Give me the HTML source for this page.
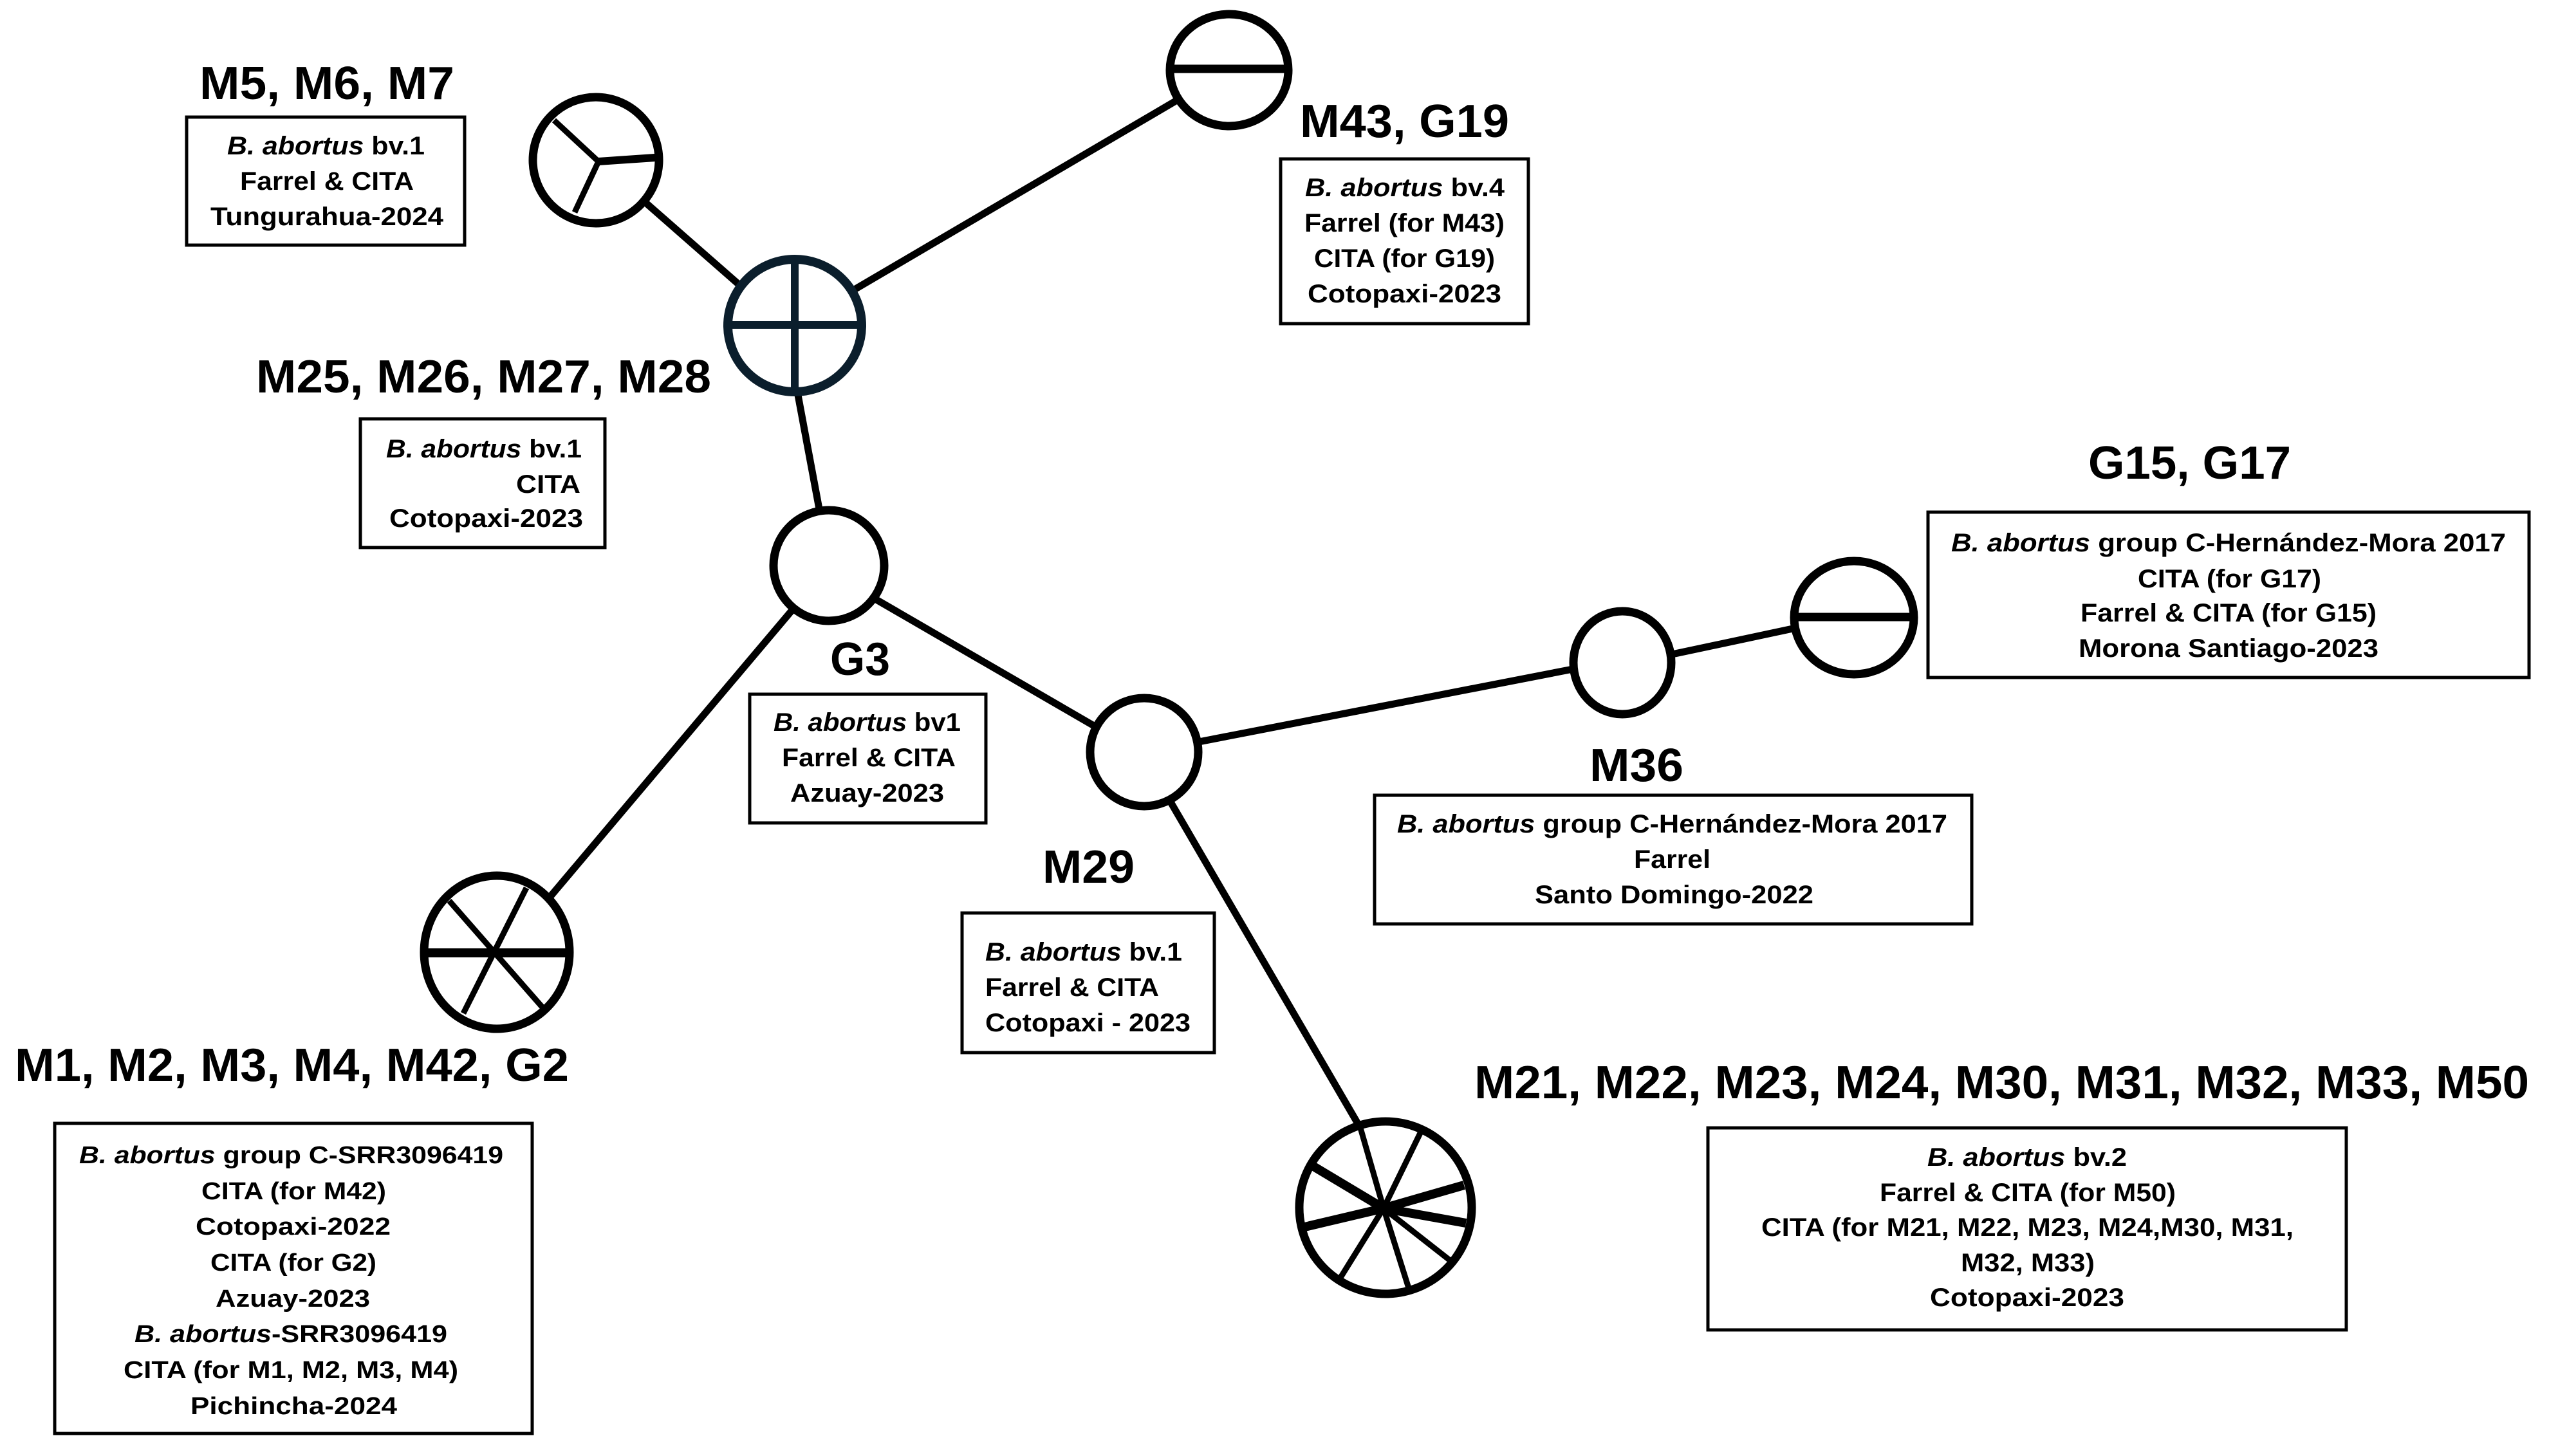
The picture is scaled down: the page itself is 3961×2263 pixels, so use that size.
<!DOCTYPE html>
<html><head><meta charset="utf-8"><style>
html,body{margin:0;padding:0;background:#fff;}
svg{display:block;}
text{font-family:"Liberation Sans",Arial,sans-serif;font-weight:bold;fill:#000;}
.t{font-size:72px;}
.b{font-size:40px;}
.s{font-size:38px;}
</style></head><body>
<svg width="3961" height="2263" viewBox="0 0 3961 2263" xmlns="http://www.w3.org/2000/svg">
<rect width="3961" height="2263" fill="#fff"/>
<g stroke="#000" stroke-width="11" fill="none" stroke-linecap="butt">
<line x1="993" y1="306" x2="1148" y2="442"/>
<line x1="1832" y1="154" x2="1326" y2="451"/>
<line x1="1240" y1="614" x2="1273" y2="791"/>
<line x1="1232" y1="947" x2="853" y2="1396"/>
<line x1="1360" y1="931" x2="1705" y2="1131"/>
<line x1="1863" y1="1153" x2="2444" y2="1040"/>
<line x1="2598" y1="1017" x2="2786" y2="977"/>
<line x1="1817" y1="1243" x2="2115" y2="1755"/>
</g>
<g stroke="#000" stroke-width="13" fill="#fff">
<circle cx="926" cy="249" r="98"/>
<ellipse cx="1910" cy="109" rx="92" ry="87"/>
<circle cx="1288" cy="879" r="86"/>
<circle cx="1778" cy="1169" r="84"/>
<ellipse cx="2521" cy="1030" rx="76" ry="80"/>
<ellipse cx="2881" cy="960" rx="93" ry="88"/>
<ellipse cx="772" cy="1480" rx="113" ry="119"/>
<circle cx="2153" cy="1877" r="134"/>
</g>
<ellipse cx="1235" cy="506" rx="104" ry="103" stroke="#0b1e2c" stroke-width="14" fill="#fff"/>
<g stroke="#0b1e2c" stroke-width="12">
<line x1="1235" y1="403" x2="1235" y2="609"/>
<line x1="1131" y1="505" x2="1339" y2="505"/>
</g>
<g stroke="#000" stroke-width="9">
<line x1="861" y1="187" x2="930" y2="251"/>
<line x1="930" y1="251" x2="1018" y2="245" stroke-width="12"/>
<line x1="930" y1="251" x2="893" y2="330"/>
<line x1="1818" y1="107" x2="2002" y2="107" stroke-width="13"/>
<line x1="2788" y1="959" x2="2974" y2="959" stroke-width="13"/>
<line x1="659" y1="1481" x2="885" y2="1481" stroke-width="14"/>
<line x1="698" y1="1400" x2="845" y2="1568"/>
<line x1="818" y1="1380" x2="720" y2="1575"/>
<line x1="2150" y1="1878" x2="2114" y2="1753"/>
<line x1="2150" y1="1878" x2="2207" y2="1761"/>
<line x1="2150" y1="1878" x2="2038" y2="1811" stroke-width="14"/>
<line x1="2150" y1="1878" x2="2275" y2="1842" stroke-width="14"/>
<line x1="2150" y1="1878" x2="2023" y2="1908" stroke-width="14"/>
<line x1="2150" y1="1878" x2="2278" y2="1901" stroke-width="14"/>
<line x1="2150" y1="1878" x2="2081" y2="1989"/>
<line x1="2150" y1="1878" x2="2189" y2="2002"/>
<line x1="2150" y1="1878" x2="2252" y2="1958"/>
</g>
<g stroke="#000" stroke-width="5" fill="none">
<rect x="290" y="182" width="432" height="199"/>
<rect x="560" y="651" width="380" height="200"/>
<rect x="1990" y="247" width="385" height="256"/>
<rect x="1165" y="1079" width="367" height="200"/>
<rect x="1495" y="1419" width="392" height="217"/>
<rect x="2136" y="1236" width="928" height="200"/>
<rect x="2996" y="796" width="934" height="257"/>
<rect x="85" y="1746" width="742" height="482"/>
<rect x="2654" y="1753" width="992" height="314"/>
</g>
<text class="t" x="310" y="154" textLength="396" lengthAdjust="spacingAndGlyphs">M5, M6, M7</text>
<text class="t" x="398" y="610" textLength="707" lengthAdjust="spacingAndGlyphs">M25, M26, M27, M28</text>
<text class="t" x="2020" y="213" textLength="325" lengthAdjust="spacingAndGlyphs">M43, G19</text>
<text class="t" x="1290" y="1049" textLength="93" lengthAdjust="spacingAndGlyphs">G3</text>
<text class="t" x="1620" y="1372" textLength="143" lengthAdjust="spacingAndGlyphs">M29</text>
<text class="t" x="2470" y="1214" textLength="146" lengthAdjust="spacingAndGlyphs">M36</text>
<text class="t" x="3245" y="744" textLength="315" lengthAdjust="spacingAndGlyphs">G15, G17</text>
<text class="t" x="23" y="1680" textLength="861" lengthAdjust="spacingAndGlyphs">M1, M2, M3, M4, M42, G2</text>
<text class="t" x="2291" y="1707" textLength="1639" lengthAdjust="spacingAndGlyphs">M21, M22, M23, M24, M30, M31, M32, M33, M50</text>
<!-- M5 box -->
<text class="b" x="353" y="240" textLength="307" lengthAdjust="spacingAndGlyphs"><tspan font-style="italic">B. abortus</tspan> bv.1</text>
<text class="b" x="373" y="295" textLength="270" lengthAdjust="spacingAndGlyphs">Farrel &amp; CITA</text>
<text class="b" x="327" y="350" textLength="362" lengthAdjust="spacingAndGlyphs">Tungurahua-2024</text>
<!-- M25 box -->
<text class="b" x="600" y="711" textLength="304" lengthAdjust="spacingAndGlyphs"><tspan font-style="italic">B. abortus</tspan> bv.1</text>
<text class="b" x="802" y="766" textLength="100" lengthAdjust="spacingAndGlyphs">CITA</text>
<text class="b" x="605" y="819" textLength="301" lengthAdjust="spacingAndGlyphs">Cotopaxi-2023</text>
<!-- M43 box -->
<text class="b" x="2028" y="305" textLength="310" lengthAdjust="spacingAndGlyphs"><tspan font-style="italic">B. abortus</tspan> bv.4</text>
<text class="b" x="2027" y="360" textLength="311" lengthAdjust="spacingAndGlyphs">Farrel (for M43)</text>
<text class="b" x="2042" y="415" textLength="281" lengthAdjust="spacingAndGlyphs">CITA (for G19)</text>
<text class="b" x="2032" y="470" textLength="301" lengthAdjust="spacingAndGlyphs">Cotopaxi-2023</text>
<!-- G3 box -->
<text class="b" x="1202" y="1136" textLength="291" lengthAdjust="spacingAndGlyphs"><tspan font-style="italic">B. abortus</tspan> bv1</text>
<text class="b" x="1215" y="1191" textLength="270" lengthAdjust="spacingAndGlyphs">Farrel &amp; CITA</text>
<text class="b" x="1228" y="1246" textLength="239" lengthAdjust="spacingAndGlyphs">Azuay-2023</text>
<!-- M29 box -->
<text class="b" x="1531" y="1493" textLength="306" lengthAdjust="spacingAndGlyphs"><tspan font-style="italic">B. abortus</tspan> bv.1</text>
<text class="b" x="1531" y="1548" textLength="270" lengthAdjust="spacingAndGlyphs">Farrel &amp; CITA</text>
<text class="b" x="1531" y="1603" textLength="319" lengthAdjust="spacingAndGlyphs">Cotopaxi - 2023</text>
<!-- M36 box -->
<text class="b" x="2171" y="1294" textLength="855" lengthAdjust="spacingAndGlyphs"><tspan font-style="italic">B. abortus</tspan> group C-Hernández-Mora 2017</text>
<text class="b" x="2539" y="1349" textLength="119" lengthAdjust="spacingAndGlyphs">Farrel</text>
<text class="b" x="2385" y="1404" textLength="433" lengthAdjust="spacingAndGlyphs">Santo Domingo-2022</text>
<!-- G15 box -->
<text class="b" x="3032" y="857" textLength="862" lengthAdjust="spacingAndGlyphs"><tspan font-style="italic">B. abortus</tspan> group C-Hernández-Mora 2017</text>
<text class="b" x="3322" y="913" textLength="285" lengthAdjust="spacingAndGlyphs">CITA (for G17)</text>
<text class="b" x="3233" y="966" textLength="460" lengthAdjust="spacingAndGlyphs">Farrel &amp; CITA (for G15)</text>
<text class="b" x="3230" y="1021" textLength="466" lengthAdjust="spacingAndGlyphs">Morona Santiago-2023</text>
<!-- M1 box -->
<text class="s" x="123" y="1808" textLength="659" lengthAdjust="spacingAndGlyphs"><tspan font-style="italic">B. abortus</tspan> group C-SRR3096419</text>
<text class="s" x="313" y="1864" textLength="287" lengthAdjust="spacingAndGlyphs">CITA (for M42)</text>
<text class="s" x="304" y="1919" textLength="303" lengthAdjust="spacingAndGlyphs">Cotopaxi-2022</text>
<text class="s" x="327" y="1975" textLength="258" lengthAdjust="spacingAndGlyphs">CITA (for G2)</text>
<text class="s" x="335" y="2031" textLength="240" lengthAdjust="spacingAndGlyphs">Azuay-2023</text>
<text class="s" x="209" y="2086" textLength="486" lengthAdjust="spacingAndGlyphs"><tspan font-style="italic">B. abortus</tspan>-SRR3096419</text>
<text class="s" x="192" y="2142" textLength="520" lengthAdjust="spacingAndGlyphs">CITA (for M1, M2, M3, M4)</text>
<text class="s" x="296" y="2198" textLength="321" lengthAdjust="spacingAndGlyphs">Pichincha-2024</text>
<!-- M21 box -->
<text class="b" x="2995" y="1812" textLength="310" lengthAdjust="spacingAndGlyphs"><tspan font-style="italic">B. abortus</tspan> bv.2</text>
<text class="b" x="2921" y="1867" textLength="460" lengthAdjust="spacingAndGlyphs">Farrel &amp; CITA (for M50)</text>
<text class="b" x="2737" y="1921" textLength="827" lengthAdjust="spacingAndGlyphs">CITA (for M21, M22, M23, M24,M30, M31,</text>
<text class="b" x="3047" y="1976" textLength="208" lengthAdjust="spacingAndGlyphs">M32, M33)</text>
<text class="b" x="2999" y="2030" textLength="302" lengthAdjust="spacingAndGlyphs">Cotopaxi-2023</text>
</svg>
</body></html>
